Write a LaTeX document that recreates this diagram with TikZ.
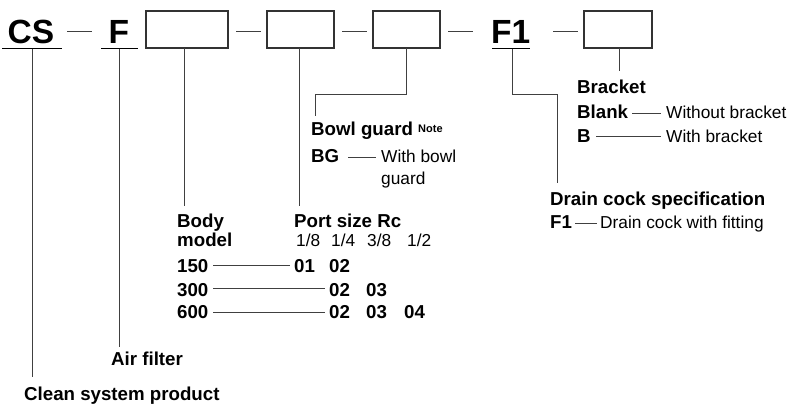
\documentclass[tikz,border=0pt]{standalone}
\usepackage{fontspec}
\setmainfont{Liberation Sans}
\begin{document}
\begin{tikzpicture}[x=1pt,y=-1pt,
  lb/.style={anchor=base west,inner sep=0pt,font=\fontsize{18.7}{22}\selectfont\bfseries},
  lr/.style={anchor=base west,inner sep=0pt,font=\fontsize{17.3}{22}\selectfont},
  big/.style={anchor=base west,inner sep=0pt,font=\fontsize{33.5}{36}\selectfont\bfseries},
  note/.style={anchor=base west,inner sep=0pt,font=\fontsize{11}{12}\selectfont\bfseries},
  codebox/.style={draw=black!80,line width=1.1pt},
  conn/.style={draw=black!75,line width=0.9pt},
  uline/.style={draw=black,line width=1pt}]
\useasboundingbox (0,0) rectangle (797,405);
% top row
\node[big] (cs) at (7.5,43) {CS};
\node[big] (f) at (108.5,43) {F};
\node[big] (f1) at (491,43) {F1};
\draw[uline] (2,48.7) -- (62,48.7);
\draw[uline] (101,48.7) -- (138,48.7);
\draw[uline] (492,48.7) -- (530,48.7);
\draw[codebox] (146,11) rectangle (228,48);
\draw[codebox] (267,11) rectangle (334,48);
\draw[codebox] (373,11) rectangle (440,48);
\draw[codebox] (584,11) rectangle (652,48);
\foreach \a/\b in {67/92,236/261,342/367,448/473,553/578}
  \draw[conn] (\a,31) -- (\b,31);
% labels
\node[lb] (lcs) at (24,400) {Clean system product};
\node[lb] (laf) at (111,365) {Air filter};
\node[lb] (lbody) at (177,227) {Body};
\node[lb] (lmodel) at (177,246) {model};
\node[lb] (lport) at (294,227) {Port size Rc};
\node[lr] (p18) at (296,246) {1/8};
\node[lr] (p14) at (331,246) {1/4};
\node[lr] (p38) at (367,246) {3/8};
\node[lr] (p12) at (407,246) {1/2};
\node[lb] (m150) at (177,272) {150};
\node[lb] (m300) at (177,296) {300};
\node[lb] (m600) at (177,318) {600};
\node[lb] (a01) at (294,272) {01};
\node[lb] (a02) at (329,272) {02};
\node[lb] (b02) at (329,296) {02};
\node[lb] (b03) at (366,296) {03};
\node[lb] (c02) at (329,318) {02};
\node[lb] (c03) at (366,318) {03};
\node[lb] (c04) at (404,318) {04};
\draw[conn] (213,265) -- (290,265);
\draw[conn] (213,288) -- (325,288);
\draw[conn] (213,312) -- (325,312);
% bowl guard
\node[lb] (lbowl) at (311,135) {Bowl guard};
\node[note] (lnote) at (418,132) {Note};
\node[lb] (lbg) at (311,162) {BG};
\node[lr] (lwbg) at (381,162) {With bowl};
\node[lr] (lguard) at (381,184) {guard};
\draw[conn] (348,157) -- (376,157);
% bracket
\node[lb] (lbr) at (577,93) {Bracket};
\node[lb] (lblank) at (577,118) {Blank};
\node[lr] (lwob) at (666,118) {Without bracket};
\node[lb] (lb) at (577,142) {B};
\node[lr] (lwb) at (666,142) {With bracket};
\draw[conn] (632,113) -- (661,113);
\draw[conn] (596,136) -- (661,136);
% drain cock
\node[lb] (ldc) at (550,205) {Drain cock specification};
\node[lb] (lf1) at (550,228) {F1};
\node[lr] (ldcf) at (600,228) {Drain cock with fitting};
\draw[conn] (575,223) -- (597,223);
% leaders
\draw[conn] (32,48.7) -- (32,377);
\draw[conn] (119,48.7) -- (119,347);
\draw[conn] (184,48) -- (184,206);
\draw[conn] (299,48) -- (299,206);
\draw[conn] (406,48) -- (406,94) -- (315,94) -- (315,116);
\draw[conn] (512,48.7) -- (512,94) -- (557,94) -- (557,183);
\draw[conn] (619,48) -- (619,71);
\end{tikzpicture}
\end{document}
